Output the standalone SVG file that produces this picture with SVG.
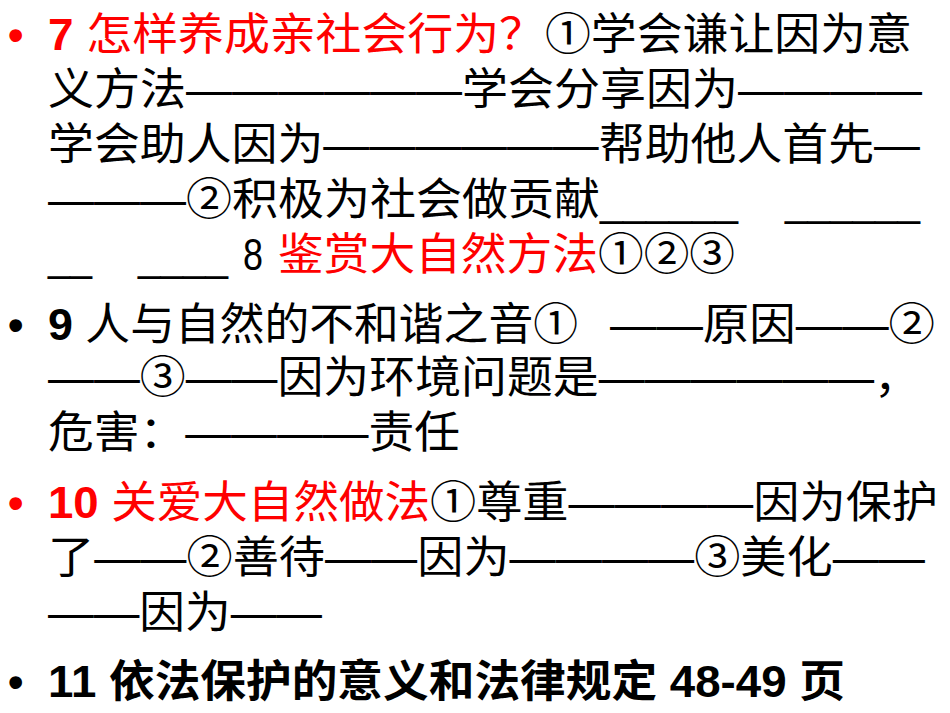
<svg xmlns="http://www.w3.org/2000/svg" width="950" height="713" viewBox="0 0 950 713">
<style>
text{font-family:"Liberation Sans","Noto Sans CJK SC",sans-serif;font-size:44px;fill:#000}
.r{fill:#f00}.b{font-weight:bold}
</style>
<rect width="950" height="713" fill="#fff"/>
<g id="bullets" class="b">
<text x="8" y="50" class="r">•</text>
<text x="8" y="340">•</text>
<text x="8" y="518" class="r">•</text>
<text x="8" y="697">•</text>
</g>
<g id="item7">
<text x="48" y="50" textLength="497" lengthAdjust="spacingAndGlyphs" class="r"><tspan class="b">7</tspan> 怎样养成亲社会行为？</text>
<text x="545" y="50" textLength="367" lengthAdjust="spacingAndGlyphs">①学会谦让因为意</text>
<text x="48" y="105" textLength="874" lengthAdjust="spacingAndGlyphs">义方法——————学会分享因为————</text>
<text x="48" y="160" textLength="872" lengthAdjust="spacingAndGlyphs">学会助人因为——————帮助他人首先—</text>
<text x="48" y="215" textLength="552" lengthAdjust="spacingAndGlyphs">———②积极为社会做贡献</text>
<text x="600" y="215" textLength="138" lengthAdjust="spacingAndGlyphs">______</text>
<text x="785" y="215" textLength="135" lengthAdjust="spacingAndGlyphs">______</text>
<text x="48" y="270" textLength="44" lengthAdjust="spacingAndGlyphs">__</text>
<text x="138" y="270" textLength="90" lengthAdjust="spacingAndGlyphs">____</text>
<text x="243" y="270" textLength="20" lengthAdjust="spacingAndGlyphs">8</text>
<text x="278" y="270" textLength="320" lengthAdjust="spacingAndGlyphs" class="r">鉴赏大自然方法</text>
<text x="598" y="270" textLength="137" lengthAdjust="spacingAndGlyphs">①②③</text>
</g>
<g id="item9">
<text x="48" y="340" textLength="530" lengthAdjust="spacingAndGlyphs"><tspan class="b">9</tspan> 人与自然的不和谐之音①</text>
<text x="610" y="340" textLength="325" lengthAdjust="spacingAndGlyphs">——原因——②</text>
<text x="48" y="393" textLength="872" lengthAdjust="spacingAndGlyphs">——③——因为环境问题是——————，</text>
<text x="48" y="448" textLength="412" lengthAdjust="spacingAndGlyphs">危害：————责任</text>
</g>
<g id="item10">
<text x="48" y="518" textLength="382" lengthAdjust="spacingAndGlyphs" class="r"><tspan class="b">10</tspan> 关爱大自然做法</text>
<text x="430" y="518" textLength="508" lengthAdjust="spacingAndGlyphs">①尊重————因为保护</text>
<text x="48" y="573" textLength="877" lengthAdjust="spacingAndGlyphs">了——②善待——因为————③美化——</text>
<text x="48" y="628" textLength="274" lengthAdjust="spacingAndGlyphs">——因为——</text>
</g>
<g id="item11">
<text x="48" y="697" textLength="797" lengthAdjust="spacingAndGlyphs" class="b">11 依法保护的意义和法律规定 48-49 页</text>
</g>
</svg>
